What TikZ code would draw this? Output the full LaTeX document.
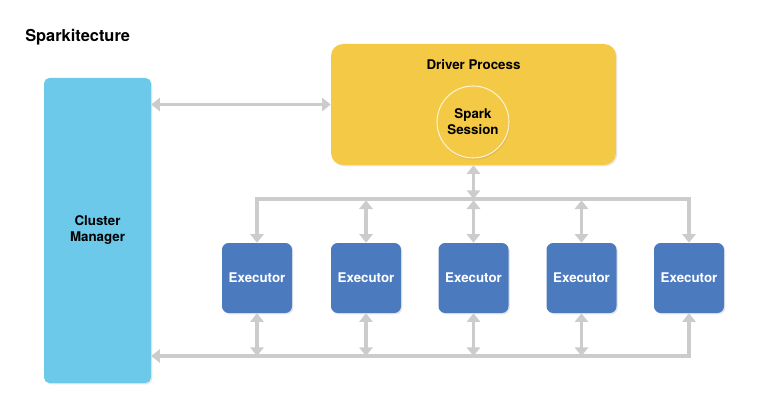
\documentclass[tikz,border=0pt]{standalone}
\usepackage{fontspec}
\setmainfont{TeX Gyre Heros}
\usepackage{tikz}
\usetikzlibrary{arrows.meta,shadows}
\usepackage{xcolor}
\definecolor{cmblue}{HTML}{6DC9EA}
\definecolor{drvyellow}{HTML}{F4C945}
\definecolor{exblue}{HTML}{4C7ABF}
\definecolor{linkgray}{HTML}{CCCCCC}

\begin{document}
\begin{tikzpicture}[x=0.75pt,y=-0.75pt,
  >={Triangle[length=6.5pt,width=10pt]},
  link/.style={draw=linkgray,line width=2.4pt},
  box/.style={rounded corners=5pt,inner sep=0pt,font=\bfseries\fontsize{10}{12}\selectfont,
    drop shadow={opacity=0.18,shadow xshift=1pt,shadow yshift=-1pt}},
  exec/.style={box,fill=exblue,text=white,minimum width=52.5pt,minimum height=52.5pt}]
\useasboundingbox (0,0) rectangle (768,410);
\node[anchor=west,inner sep=0pt,font=\bfseries\fontsize{12.3}{14}\selectfont] (title) at (25,37) {Sparkitecture};
\node[box,fill=cmblue,rounded corners=4pt,minimum width=80.25pt,minimum height=228.75pt,align=center] (cm) at (97.5,230.5) {Cluster\\Manager};
\node[box,fill=drvyellow,rounded corners=9pt,minimum width=213.75pt,minimum height=90.75pt] (drv) at (473.5,104.5) {};
\node[font=\bfseries\fontsize{10}{12}\selectfont] (drvlbl) at (473.5,65) {Driver Process};
\node[circle,draw=drvyellow!25!white,line width=0.8pt,fill=drvyellow,minimum size=54pt,inner sep=0pt,align=center,
  font=\bfseries\fontsize{10}{12}\selectfont,drop shadow={opacity=0.2,shadow xshift=0.8pt,shadow yshift=-1.2pt}] (sess) at (473,122) {Spark\\Session};
\foreach \x [count=\i] in {257,366,473.5,581.5,689}
  \node[exec] (e\i) at (\x,278) {Executor};
\coordinate (topbus) at (473.5,199);
\coordinate (lowbus) at (473.5,356);
\draw[link,<->] (drv.west -| cm.east) -- (drv.west);
\draw[link,<->] (drv.south) -- (topbus);
\draw[link,->] (topbus) -| (e1.north);
\draw[link,->] (topbus) -| (e5.north);
\foreach \i in {2,3,4}
  \draw[link,<->,shorten <=1pt] (e\i.north |- topbus) -- (e\i.north);
\draw[link,<->] (cm.east |- lowbus) -| (e5.south);
\foreach \i in {1,2,3,4}
  \draw[link,<->] (e\i.south) -- (e\i.south |- lowbus);
\end{tikzpicture}
\end{document}
